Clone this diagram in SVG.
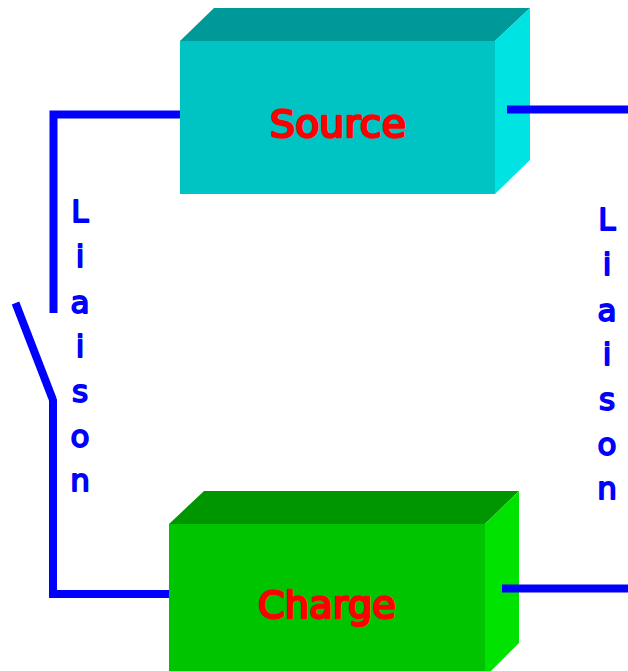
<svg xmlns="http://www.w3.org/2000/svg" width="628" height="671" viewBox="0 0 628 671">
<style>
.w{fill:none;stroke:#0000ff;stroke-width:8;stroke-linejoin:miter}
.t{font-family:"Comic Sans MS","DejaVu Sans",sans-serif;fill:#ff0000;stroke:#ff0000;stroke-width:2.4;stroke-linejoin:round;font-size:38px;text-anchor:middle}
.l{font-family:"Comic Sans MS","DejaVu Sans",sans-serif;fill:#0000ff;stroke:#0000ff;stroke-width:1.8;stroke-linejoin:round;font-size:31px;text-anchor:middle}
</style>
<rect width="628" height="671" fill="#ffffff"/>
<g id="source">
<polygon points="180,41 214,8 530,8 495,41" fill="#009999"/>
<polygon points="495,41 530,8 530,160 495,194" fill="#00e3e3"/>
<rect x="180" y="41" width="315" height="153" fill="#00c4c4"/>
<text class="t" x="338" y="137" textLength="136" lengthAdjust="spacingAndGlyphs">Source</text>
</g>
<g id="charge">
<polygon points="169,524 204,491 519,491 485,524" fill="#009600"/>
<polygon points="485,524 519,491 519,643 485,677" fill="#00e300"/>
<rect x="169" y="524" width="316" height="147" fill="#00c400"/>
<text class="t" x="327" y="618" textLength="138" lengthAdjust="spacingAndGlyphs">Charge</text>
</g>
<g id="connectors">
<polyline class="w" points="180,114.500 53.500,114.500 53.500,313"/>
<polyline class="w" points="15.500,303 53,400"/>
<polyline class="w" points="53,399 53,594 169,594"/>
<line class="w" x1="507" y1="109.500" x2="628" y2="109.500"/>
<line class="w" x1="502" y1="588.500" x2="628" y2="588.500"/>
</g>
<g id="label-left">
<text class="l" x="80" y="222">L</text><text class="l" x="80" y="267">i</text><text class="l" x="80" y="313">a</text><text class="l" x="80" y="357">i</text><text class="l" x="80" y="402">s</text><text class="l" x="80" y="447">o</text><text class="l" x="80" y="491">n</text>
</g>
<g id="label-right">
<text class="l" x="607" y="230">L</text><text class="l" x="607" y="275">i</text><text class="l" x="607" y="321">a</text><text class="l" x="607" y="365">i</text><text class="l" x="607" y="410">s</text><text class="l" x="607" y="455">o</text><text class="l" x="607" y="499">n</text>
</g>
</svg>
